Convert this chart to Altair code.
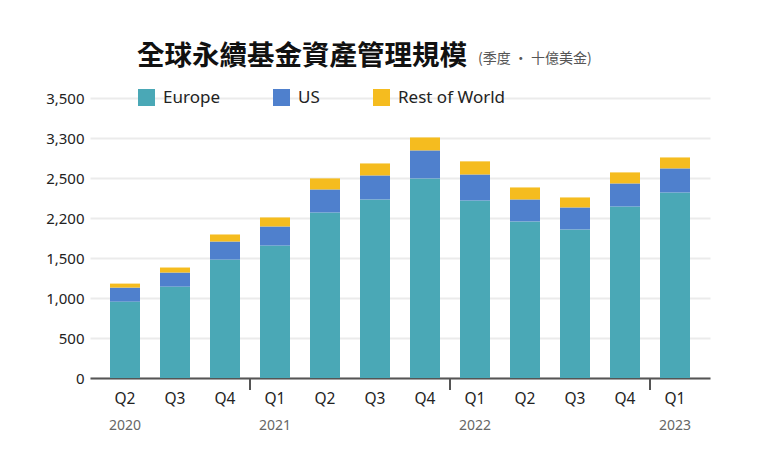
import altair as alt
import pandas as pd

quarters = ["Q2", "Q3", "Q4", "Q1", "Q2", "Q3", "Q4", "Q1", "Q2", "Q3", "Q4", "Q1"]
years = [2020, 2020, 2020, 2021, 2021, 2021, 2021, 2022, 2022, 2022, 2022, 2023]
europe = [955, 1143, 1481, 1656, 2069, 2232, 2495, 2219, 1957, 1857, 2144, 2319]
us = [175, 175, 225, 238, 288, 300, 350, 325, 275, 275, 288, 301]
rest_of_world = [50, 63, 88, 113, 138, 150, 162, 164, 150, 125, 138, 137]
series = ["Europe", "US", "Rest of World"]
colors = ["#4AA8B6", "#4F80CD", "#F5BC1F"]
y_ticks = [0, 500, 1000, 1500, 2000, 2500, 3000, 3500]
title_text = "全球永續基金資產管理規模"
subtitle_text = "(季度 · 十億美金)"

periods = [f"{y} {q}" for y, q in zip(years, quarters)]
rows = []
for i, p in enumerate(periods):
    for k, (name, vals) in enumerate(zip(series, [europe, us, rest_of_world])):
        rows.append({"period": p, "series": name, "value": vals[i], "order": k})
df = pd.DataFrame(rows)

year_rows = []
for i, p in enumerate(periods):
    if i == 0 or quarters[i] == "Q1":
        year_rows.append({"period": p, "year": str(years[i])})
year_df = pd.DataFrame(year_rows)
tick_df = pd.DataFrame([{"period": p} for i, p in enumerate(periods) if quarters[i] == "Q1"])

W, H = 620, 280
FONT = "Noto Sans"

x_scale = alt.Scale(domain=periods, paddingInner=0.4, paddingOuter=0.4)

bars = alt.Chart(df).mark_bar().encode(
    x=alt.X("period:N", scale=x_scale, title=None,
            axis=alt.Axis(labelExpr="split(datum.value, ' ')[1]", labelAngle=0,
                          ticks=False, domainColor="#555555", domainWidth=2,
                          labelFont=FONT, labelFontSize=15.5, labelColor="#222222",
                          labelPadding=13, grid=False)),
    y=alt.Y("value:Q", stack="zero", title=None,
            scale=alt.Scale(domain=[0, 3500], nice=False),
            axis=alt.Axis(values=y_ticks, domain=False, ticks=False,
                          labelExpr="datum.value == 2000 ? '2,200' : datum.value == 3000 ? '3,300' : format(datum.value, ',')",
                          labelFont=FONT, labelFontSize=15, labelColor="#222222",
                          labelPadding=6, gridColor="#EBEBEB", gridWidth=2)),
    color=alt.Color("series:N", scale=alt.Scale(domain=series, range=colors),
                    legend=alt.Legend(orient="none", legendX=48, legendY=-9,
                                      direction="horizontal", title=None,
                                      symbolType="square", symbolSize=289,
                                      symbolStrokeWidth=0, symbolOpacity=1,
                                      labelFont=FONT, labelFontSize=17,
                                      labelColor="#222222", labelOffset=8,
                                      columnPadding=53)),
    order=alt.Order("order:Q"),
)

year_ticks = alt.Chart(tick_df).mark_rule(color="#555555", strokeWidth=2, xOffset=-25).encode(
    x=alt.X("period:N", scale=x_scale),
    y=alt.value(H),
    y2=alt.value(H + 12),
)

year_labels = alt.Chart(year_df).mark_text(
    font=FONT, fontSize=14, color="#666666", baseline="middle"
).encode(
    x=alt.X("period:N", scale=x_scale),
    y=alt.value(H + 48),
    text="year:N",
)

title = alt.Chart(pd.DataFrame({"t": [title_text]})).mark_text(
    font="Noto Sans CJK TC", fontSize=27.5, fontWeight="bold", color="#111111",
    align="left", baseline="middle"
).encode(x=alt.value(47), y=alt.value(-41), text="t:N")

subtitle = alt.Chart(pd.DataFrame({"t": [subtitle_text]})).mark_text(
    font="Noto Sans CJK TC", fontSize=14, color="#555555",
    align="left", baseline="middle"
).encode(x=alt.value(388), y=alt.value(-39), text="t:N")

chart = alt.layer(bars, year_ticks, year_labels, title, subtitle).properties(
    width=W, height=H,
    autosize=alt.AutoSizeParams(type="none"),
    padding={"left": 82, "top": 90, "right": 30, "bottom": 60},
).configure_view(stroke=None)

chart.save("out.html", embed_options={"renderer": "svg", "actions": False})
